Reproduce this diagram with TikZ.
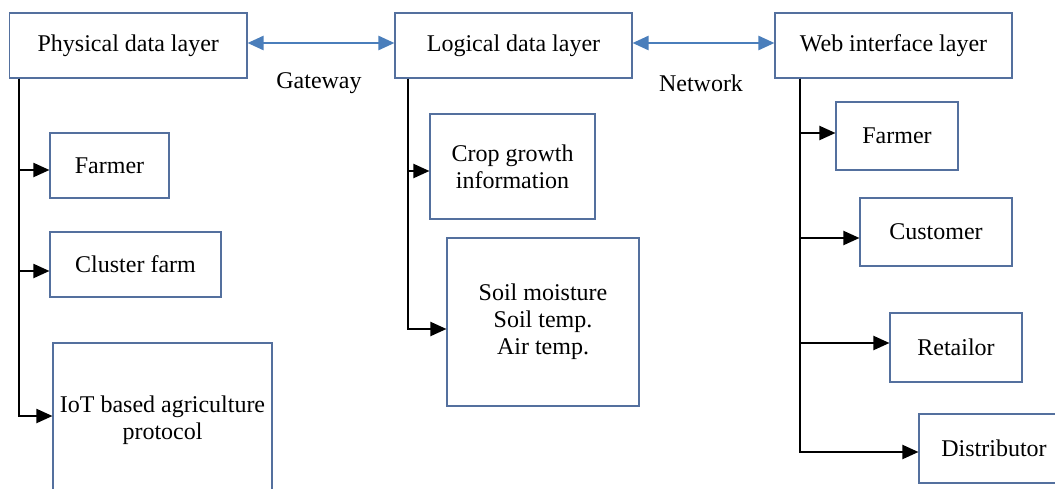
\documentclass[tikz,border=0pt]{standalone}
\usepackage{fontspec}
\setmainfont{Liberation Serif}
\usetikzlibrary{arrows.meta}
\definecolor{boxblue}{RGB}{84,112,158}
\definecolor{linkblue}{RGB}{74,126,187}
\tikzset{
  box/.style={draw=boxblue, line width=1.1pt, rectangle, inner sep=0pt, align=center, font=\fontsize{24}{27}\selectfont},
  conn/.style={line width=2pt, -{Triangle[length=16pt,width=14pt]}},
  link/.style={draw=linkblue, line width=2.4pt, {Triangle[length=16pt,width=14pt]}-{Triangle[length=16pt,width=14pt]}},
  lbl/.style={inner sep=0pt, font=\fontsize{24}{27}\selectfont}
}
\begin{document}
\begin{tikzpicture}[x=1pt,y=-1pt]
\clip (0,0) rectangle (1055,488);
\fill[white] (0,0) rectangle (1055,488);
% layers
\node[box, minimum width=237.5pt, minimum height=65pt] (phys) at (128.25,45.5) {Physical data layer};
\node[box, minimum width=237pt, minimum height=65pt] (logi) at (513.5,45.5) {Logical data layer};
\node[box, minimum width=237pt, minimum height=65pt] (web) at (893.5,45.5) {Web interface layer};
\node[lbl] (gw) at (319,83) {Gateway};
\node[lbl] (nw) at (701,83) {Network};
\draw[link] ([yshift=2.5pt]phys.east) -- ([yshift=2.5pt]logi.west);
\draw[link] ([yshift=2.5pt]logi.east) -- ([yshift=2.5pt]web.west);
% physical children
\node[box, minimum width=119pt, minimum height=65pt] (far1) at (109.5,165.5) {Farmer};
\node[box, minimum width=171pt, minimum height=65pt] (clu) at (135.5,264.5) {Cluster farm};
\node[box, minimum width=219pt, minimum height=154pt] (iot) at (162.5,420) {IoT based agriculture\\protocol};
\draw[conn] (phys.south west) ++(10.5,0) |- ([yshift=-4.5pt]far1.west);
\draw[conn] (phys.south west) ++(10.5,0) |- ([yshift=-6.5pt]clu.west);
\draw[conn] (phys.south west) ++(10.5,0) |- ([yshift=4pt]iot.west);
% logical children
\node[box, minimum width=165pt, minimum height=105pt] (crop) at (512.5,166.5) {Crop growth\\information};
\node[box, minimum width=192pt, minimum height=168pt] (soil) at (543,322) {Soil moisture\\Soil temp.\\Air temp.};
\draw[conn] (logi.south west) ++(14,0) |- ([yshift=-4.5pt]crop.west);
\draw[conn] (logi.south west) ++(14,0) |- ([yshift=-7pt]soil.west);
% web children
\node[box, minimum width=122pt, minimum height=68pt] (far2) at (897,136) {Farmer};
\node[box, minimum width=152pt, minimum height=68pt] (cus) at (936,232) {Customer};
\node[box, minimum width=132pt, minimum height=69pt] (ret) at (956,347.5) {Retailor};
\node[box, minimum width=150pt, minimum height=69pt] (dis) at (994,448.5) {Distributor};
\draw[conn] (web.south west) ++(26,0) |- ([yshift=3pt]far2.west);
\draw[conn] (web.south west) ++(26,0) |- ([yshift=-6pt]cus.west);
\draw[conn] (web.south west) ++(26,0) |- ([yshift=4.5pt]ret.west);
\draw[conn] (web.south west) ++(26,0) |- ([yshift=-3.5pt]dis.west);
\end{tikzpicture}
\end{document}
